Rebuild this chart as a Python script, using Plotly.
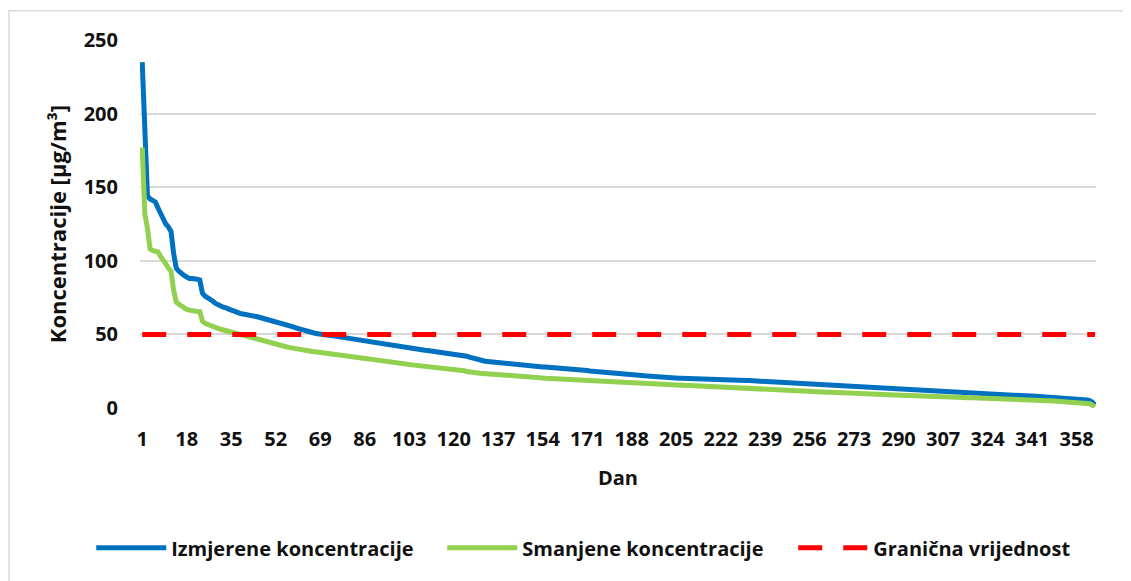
import plotly.graph_objects as go

days = list(range(1, 366))

izmjerene = [
    235, 178, 144, 142, 141, 140, 136, 132, 128, 125,
    123, 120, 105, 95, 93, 91, 90, 89, 88, 88,
    88, 87.5, 87, 78, 76, 75, 74, 72.5, 71, 70,
    69, 68.5, 68, 67, 66.5, 66, 65, 64.5, 64, 63.8,
    63.5, 63.3, 63, 62.5, 62, 61.5, 61, 60.5, 60, 59.8,
    59.5, 59, 58.7, 58.2, 57.6, 57, 56.3, 55.6, 55, 54.2,
    53.6, 53, 52.4, 52, 51.6, 51.2, 50.8, 50.4, 50, 49.8,
    49.6, 49.4, 49.2, 49, 48.7, 48.4, 48.1, 47.8, 47.5, 47.3,
    47, 46.6, 46.3, 46, 45.8, 45.5, 45.3, 45, 44.7, 44.4,
    44.2, 44, 43.6, 43.2, 42.8, 42.4, 42, 41.7, 41.4, 41.1,
    40.8, 40.5, 40.3, 40.1, 40, 39.8, 39.6, 39.4, 39.2, 39,
    38.8, 38.6, 38.4, 38.2, 38, 37.8, 37.6, 37.4, 37.2, 37,
    36.8, 36.5, 36.2, 35.8, 35.2, 34.6, 34, 33.4, 32.8, 32.3,
    32, 31.8, 31.6, 31.4, 31.2, 31, 30.8, 30.5, 30.2, 30,
    29.7, 29.5, 29.3, 29.2, 29.1, 29, 28.8, 28.7, 28.6, 28.5,
    28.3, 28.2, 28, 27.9, 27.8, 27.7, 27.5, 27.4, 27.2, 27,
    26.9, 26.7, 26.5, 26.4, 26.3, 26.1, 26, 25.9, 25.7, 25.5,
    25.4, 25.2, 25, 24.9, 24.8, 24.7, 24.5, 24.4, 24.3, 24.1,
    24, 23.8, 23.6, 23.4, 23.2, 23, 22.9, 22.8, 22.6, 22.4,
    22.2, 22, 21.9, 21.8, 21.6, 21.5, 21.3, 21.2, 21, 20.9,
    20.8, 20.7, 20.5, 20.4, 20.3, 20.2, 20.2, 20.1, 20.1, 20,
    19.9, 19.9, 19.8, 19.8, 19.7, 19.6, 19.6, 19.5, 19.5, 19.4,
    19.3, 19.3, 19.2, 19.1, 19.1, 19, 18.9, 18.9, 18.8, 18.8,
    18.7, 18.6, 18.6, 18.5, 18.5, 18.4, 18.3, 18.2, 18.1, 18,
    17.9, 17.8, 17.6, 17.5, 17.4, 17.3, 17.2, 17.1, 17, 16.9,
    16.8, 16.7, 16.6, 16.5, 16.4, 16.3, 16.2, 16.1, 15.9, 15.8,
    15.7, 15.6, 15.5, 15.4, 15.2, 15.1, 15, 14.9, 14.8, 14.7,
    14.5, 14.4, 14.3, 14.2, 14.1, 14, 13.8, 13.7, 13.6, 13.5,
    13.4, 13.3, 13.2, 13.1, 13, 12.8, 12.7, 12.6, 12.5, 12.5,
    12.4, 12.3, 12.2, 12.1, 12, 12, 11.9, 11.8, 11.7, 11.6,
    11.6, 11.5, 11.4, 11.3, 11.2, 11.2, 11.1, 11, 10.9, 10.8,
    10.7, 10.6, 10.5, 10.4, 10.4, 10.3, 10.2, 10.1, 10, 9.9,
    9.8, 9.7, 9.7, 9.6, 9.5, 9.4, 9.3, 9.2, 9.1, 9,
    9, 8.9, 8.8, 8.7, 8.6, 8.5, 8.4, 8.3, 8.2, 8.1,
    8.1, 8, 7.9, 7.8, 7.7, 7.7, 7.6, 7.5, 7.4, 7.4,
    7.3, 7.2, 7.1, 7, 7, 6.9, 6.8, 6.6, 6.4, 6.2,
    5.9, 5.5, 5, 4, 2,
]

smanjene = [
    177, 132, 122, 108, 107, 106.5, 106, 103, 101, 98,
    95, 93, 80, 72, 70.5, 69, 68, 67, 66.5, 66,
    65.8, 65.6, 65.5, 59, 57.5, 56.7, 56, 55.3, 54.5, 54,
    53.5, 53, 52.5, 52, 51.3, 50.8, 50.3, 49.8, 49.4, 49,
    48.6, 48.2, 47.7, 47.3, 46.9, 46.5, 46.1, 45.6, 45.1, 44.6,
    44.1, 43.6, 43.1, 42.6, 42.1, 41.6, 41.2, 40.8, 40.4, 40.1,
    39.8, 39.5, 39.2, 38.9, 38.6, 38.4, 38.2, 38, 37.8, 37.6,
    37.4, 37.2, 37, 36.8, 36.6, 36.4, 36.1, 35.8, 35.4, 35.2,
    34.9, 34.6, 34.4, 34.2, 34, 33.8, 33.5, 33.2, 32.9, 32.6,
    32.3, 32, 31.8, 31.5, 31.3, 31, 30.8, 30.5, 30.3, 30.1,
    29.9, 29.7, 29.5, 29.3, 29.1, 29, 28.8, 28.6, 28.4, 28.3,
    28.1, 27.9, 27.8, 27.6, 27.4, 27.2, 27, 26.9, 26.8, 26.7,
    26.5, 26.2, 25.8, 25.3, 24.8, 24.4, 24.1, 23.9, 23.7, 23.6,
    23.5, 23.4, 23.2, 23.1, 23, 22.8, 22.7, 22.5, 22.4, 22.2,
    22.1, 21.9, 21.8, 21.7, 21.6, 21.4, 21.3, 21.2, 21, 20.9,
    20.8, 20.6, 20.5, 20.4, 20.2, 20.1, 20, 19.8, 19.7, 19.6,
    19.5, 19.4, 19.2, 19.1, 19, 18.9, 18.7, 18.6, 18.5, 18.4,
    18.3, 18.2, 18.1, 18, 17.9, 17.8, 17.7, 17.6, 17.4, 17.3,
    17.2, 17.1, 17, 16.9, 16.8, 16.7, 16.7, 16.6, 16.5, 16.4,
    16.3, 16.3, 16.2, 16.1, 16, 16, 15.9, 15.9, 15.8, 15.8,
    15.7, 15.7, 15.6, 15.6, 15.5, 15.5, 15.4, 15.4, 15.3, 15.3,
    15.2, 15.1, 15.1, 15, 14.9, 14.9, 14.8, 14.7, 14.6, 14.6,
    14.5, 14.4, 14.4, 14.3, 14.2, 14.1, 14.1, 14, 13.9, 13.9,
    13.8, 13.7, 13.6, 13.6, 13.5, 13.4, 13.3, 13.2, 13.1, 13,
    12.9, 12.8, 12.7, 12.6, 12.5, 12.4, 12.3, 12.2, 12.1, 12,
    11.9, 11.8, 11.7, 11.6, 11.5, 11.4, 11.3, 11.2, 11.1, 11,
    10.9, 10.8, 10.7, 10.7, 10.6, 10.5, 10.4, 10.3, 10.3, 10.2,
    10.1, 10, 9.9, 9.9, 9.8, 9.7, 9.6, 9.5, 9.5, 9.4,
    9.3, 9.2, 9.2, 9.1, 9, 9, 8.9, 8.8, 8.8, 8.7,
    8.6, 8.6, 8.5, 8.5, 8.4, 8.3, 8.3, 8.2, 8.1, 8.1,
    8, 8, 7.9, 7.8, 7.8, 7.7, 7.6, 7.6, 7.5, 7.5,
    7.4, 7.3, 7.3, 7.2, 7.1, 7.1, 7, 7, 6.9, 6.8,
    6.8, 6.7, 6.6, 6.6, 6.5, 6.5, 6.4, 6.3, 6.3, 6.2,
    6.1, 6.1, 6, 6, 5.9, 5.8, 5.8, 5.7, 5.6, 5.5,
    5.5, 5.4, 5.3, 5.2, 5.2, 5.1, 5, 5, 4.9, 4.8,
    4.8, 4.7, 4.6, 4.6, 4.5, 4.4, 4.3, 4.2, 4.1, 3.9,
    3.7, 3.4, 2.9, 2.0, 0.8,
]

granicna_vrijednost = 50
granicna = [granicna_vrijednost] * len(days)

x_tick_vals = [1, 18, 35, 52, 69, 86, 103, 120, 137, 154, 171, 188, 205,
               222, 239, 256, 273, 290, 307, 324, 341, 358]
x_tick_text = [str(v) for v in x_tick_vals]
y_tick_vals = [0, 50, 100, 150, 200, 250]

FONT = "Open Sans"
TXT = "#111111"
FS = 20

fig = go.Figure()
fig.add_trace(go.Scatter(x=days, y=izmjerene, mode="lines",
                         name="Izmjerene koncentracije",
                         line=dict(color="#0070C0", width=5)))
fig.add_trace(go.Scatter(x=days, y=smanjene, mode="lines",
                         name="Smanjene koncentracije",
                         line=dict(color="#92D050", width=5)))
fig.add_trace(go.Scatter(x=days, y=granicna, mode="lines",
                         name="Granična vrijednost",
                         line=dict(color="#FF0000", width=5, dash="24px,21px")))

fig.update_layout(
    width=1131, height=581,
    paper_bgcolor="white", plot_bgcolor="white",
    margin=dict(l=132, r=43, t=32, b=181, autoexpand=False),
    font=dict(family=FONT, size=FS, color=TXT),
    showlegend=True,
    legend=dict(orientation="h", x=-0.051, xanchor="left",
                y=-0.38, yanchor="middle",
                font=dict(family=FONT, size=FS, color=TXT, weight="bold"),
                itemwidth=70, entrywidth=266, entrywidthmode="pixels",
                bgcolor="rgba(0,0,0,0)"),
    xaxis=dict(range=[0.15, 365.4], tickmode="array",
               tickvals=x_tick_vals, ticktext=x_tick_text,
               showgrid=False, zeroline=False, showline=False,
               ticks="", ticklabelstandoff=17,
               tickfont=dict(family=FONT, size=FS, color=TXT, weight="bold"),
               title=dict(text="Dan", standoff=19,
                          font=dict(family=FONT, size=FS, color=TXT, weight="bold"))),
    yaxis=dict(range=[0, 250], tickmode="array", tickvals=y_tick_vals,
               showgrid=True, gridcolor="#d9d9d9", gridwidth=1.5,
               zeroline=False, showline=False, ticks="",
               ticklabelstandoff=21,
               tickfont=dict(family=FONT, size=FS, color=TXT, weight="bold"),
               title=dict(text="Koncentracije [µg/m³]", standoff=10,
                          font=dict(family=FONT, size=22, color=TXT, weight="bold"))),
    shapes=[dict(type="rect", xref="paper", yref="paper",
                 x0=-0.137, x1=1.2, y0=-1.0, y1=1.0797,
                 line=dict(color="#d9d9d9", width=1.5), layer="below")],
)

fig.write_html("out.html")
